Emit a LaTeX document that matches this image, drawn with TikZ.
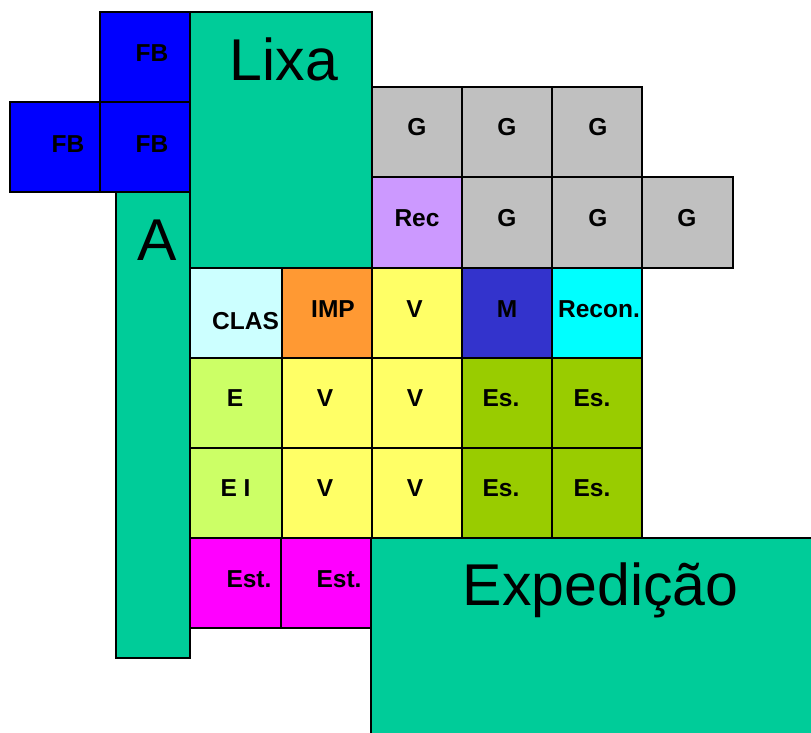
\documentclass[tikz,border=0pt]{standalone}
\usepackage{fontspec}
\setmainfont{Liberation Sans}
\definecolor{fbblue}{HTML}{0000FF}
\definecolor{teal}{HTML}{00CC99}
\definecolor{grey}{HTML}{C0C0C0}
\definecolor{lilac}{HTML}{CC99FF}
\definecolor{paleblue}{HTML}{CCFFFF}
\definecolor{orange}{HTML}{FF9933}
\definecolor{yell}{HTML}{FFFF66}
\definecolor{indigo}{HTML}{3333CC}
\definecolor{aqua}{HTML}{00FFFF}
\definecolor{lime}{HTML}{CCFF66}
\definecolor{olive}{HTML}{99CC00}
\definecolor{magenta}{HTML}{FF00FF}
\begin{document}
\begin{tikzpicture}[x=1pt,y=-1pt,
   room/.style={draw=black,line width=1.5pt},
   lab/.style={font=\bfseries\fontsize{24.5}{24.5}\selectfont,inner sep=0pt,anchor=base},
   biglab/.style={font=\fontsize{59}{59}\selectfont,inner sep=0pt,anchor=base}]
   \useasboundingbox (0,0) rectangle (811,732);
   \clip (0,0) rectangle (811,732);
   % left block
   \filldraw [room,fill=fbblue] (100,12) rectangle (190,102);
   \filldraw [room,fill=fbblue] (10,102) rectangle (100,192);
   \filldraw [room,fill=fbblue] (100,102) rectangle (190,192);
   \filldraw [room,fill=teal] (116,192) rectangle (190,658);
   \filldraw [room,fill=teal] (190,12) rectangle (372,268);
   % top right
   \filldraw [room,fill=grey] (372,87) rectangle (462,177);
   \filldraw [room,fill=grey] (462,87) rectangle (552,177);
   \filldraw [room,fill=grey] (552,87) rectangle (642,177);
   \filldraw [room,fill=lilac] (372,177) rectangle (462,268);
   \filldraw [room,fill=grey] (462,177) rectangle (552,268);
   \filldraw [room,fill=grey] (552,177) rectangle (642,268);
   \filldraw [room,fill=grey] (642,177) rectangle (733,268);
   % middle rows
   \filldraw [room,fill=paleblue] (190,268) rectangle (282,358);
   \filldraw [room,fill=orange] (282,268) rectangle (372,358);
   \filldraw [room,fill=yell] (372,268) rectangle (462,358);
   \filldraw [room,fill=indigo] (462,268) rectangle (552,358);
   \filldraw [room,fill=aqua] (552,268) rectangle (642,358);
   \filldraw [room,fill=lime] (190,358) rectangle (282,448);
   \filldraw [room,fill=yell] (282,358) rectangle (372,448);
   \filldraw [room,fill=yell] (372,358) rectangle (462,448);
   \filldraw [room,fill=olive] (462,358) rectangle (552,448);
   \filldraw [room,fill=olive] (552,358) rectangle (642,448);
   \filldraw [room,fill=lime] (190,448) rectangle (282,538);
   \filldraw [room,fill=yell] (282,448) rectangle (372,538);
   \filldraw [room,fill=yell] (372,448) rectangle (462,538);
   \filldraw [room,fill=olive] (462,448) rectangle (552,538);
   \filldraw [room,fill=olive] (552,448) rectangle (642,538);
   % bottom
   \filldraw [room,fill=magenta] (190,538) rectangle (281,628);
   \filldraw [room,fill=magenta] (281,538) rectangle (371,628);
   \filldraw [room,fill=teal] (371,538) rectangle (816,737);
   % labels
   \node [lab] (fb1) at (152,61) {FB};
   \node [lab] (fb2) at (68,152) {FB};
   \node [lab] (fb3) at (152,152) {FB};
   \node [biglab] (lixa) at (284,80) {Lixa};
   \node [biglab] (a) at (157,260) {A};
   \node [lab] (g1) at (417,135.5) {G};
   \node [lab] (g2) at (507,135.5) {G};
   \node [lab] (g3) at (598,135.5) {G};
   \node [lab] (rec) at (417,226.5) {Rec};
   \node [lab] (g4) at (507,226.5) {G};
   \node [lab] (g5) at (598,226.5) {G};
   \node [lab] (g6) at (687,226.5) {G};
   \node [lab] (clas) at (245.5,329) {CLAS};
   \node [lab] (imp) at (333,317) {IMP};
   \node [lab] (v1) at (414.5,317) {V};
   \node [lab] (m) at (507,317) {M};
   \node [lab] (recon) at (599,317) {Recon.};
   \node [lab] (e) at (235,406) {E};
   \node [lab] (v2) at (325,406) {V};
   \node [lab] (v3) at (415,406) {V};
   \node [lab] (es1) at (501,406) {Es.};
   \node [lab] (es2) at (592,406) {Es.};
   \node [lab] (ei) at (235.5,496.5) {E I};
   \node [lab] (v4) at (325,496.5) {V};
   \node [lab] (v5) at (415,496.5) {V};
   \node [lab] (es3) at (501,496.5) {Es.};
   \node [lab] (es4) at (592,496.5) {Es.};
   \node [lab] (est1) at (249,587) {Est.};
   \node [lab] (est2) at (339,587) {Est.};
   \node [biglab] (exped) at (600.5,605.5) {Expedição};
\end{tikzpicture}
\end{document}
